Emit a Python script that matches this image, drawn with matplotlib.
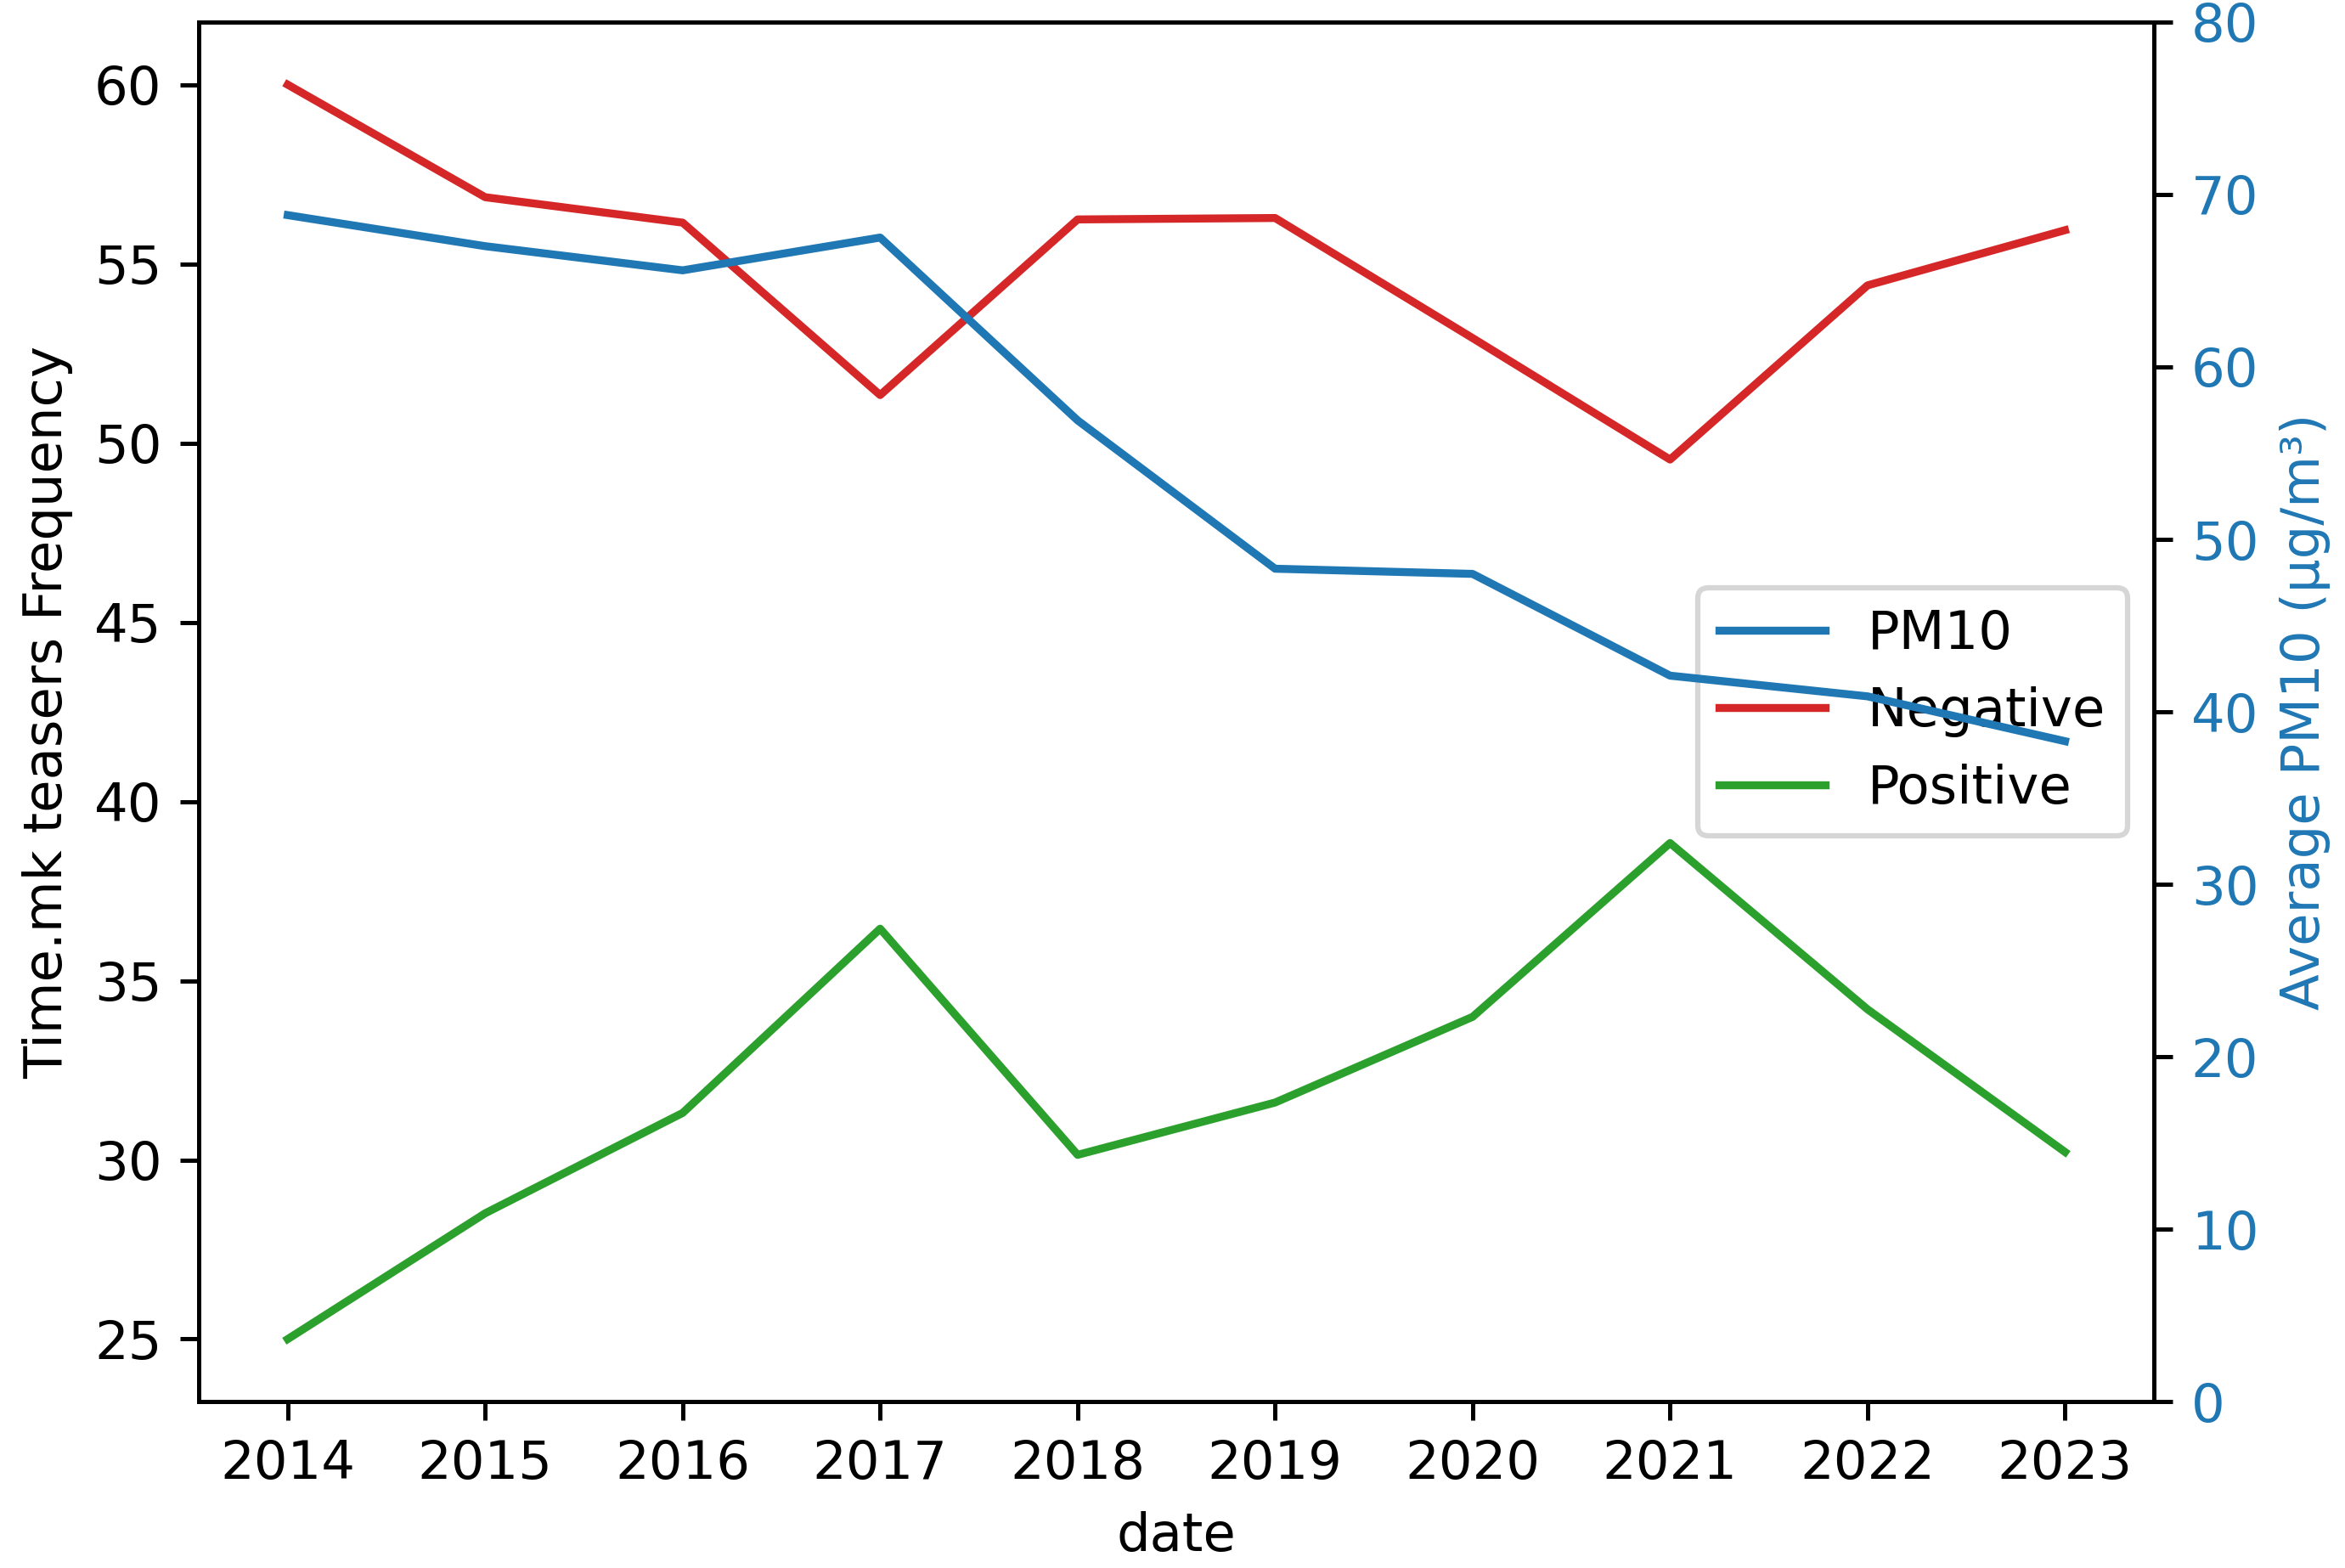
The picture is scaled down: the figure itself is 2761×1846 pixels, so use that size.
import matplotlib
matplotlib.use("Agg")
import matplotlib.pyplot as plt

years = [2014, 2015, 2016, 2017, 2018, 2019, 2020, 2021, 2022, 2023]
pm10 = [68.8, 67.0, 65.6, 67.5, 56.9, 48.3, 48.0, 42.1, 40.9, 38.3]
negative = [60.0, 56.86, 56.15, 51.34, 56.24, 56.28, 52.93, 49.54, 54.40, 55.94]
positive = [25.0, 28.51, 31.31, 36.45, 30.14, 31.60, 33.99, 38.84, 34.20, 30.22]

DPI = 450
fig, ax1 = plt.subplots(figsize=(2761 / DPI, 1846 / DPI), dpi=DPI)
fig.subplots_adjust(left=0.0848, right=0.9185, top=0.986, bottom=0.106)

l_neg, = ax1.plot(years, negative, color="tab:red", label="Negative")
l_pos, = ax1.plot(years, positive, color="tab:green", label="Positive")
ax1.set_xlabel("date")
ax1.set_ylabel("Time.mk teasers Frequency")
ax1.set_xticks(years)

ax2 = ax1.twinx()
l_pm, = ax2.plot(years, pm10, color="tab:blue", label="PM10")
ax2.set_ylim(0, 80)
ax2.set_ylabel("Average PM10 (µg/m³)", color="tab:blue")
ax2.tick_params(axis="y", labelcolor="tab:blue")

ax1.legend(handles=[l_pm, l_neg, l_pos], loc="center right")

fig.savefig("out.png", dpi=DPI)
